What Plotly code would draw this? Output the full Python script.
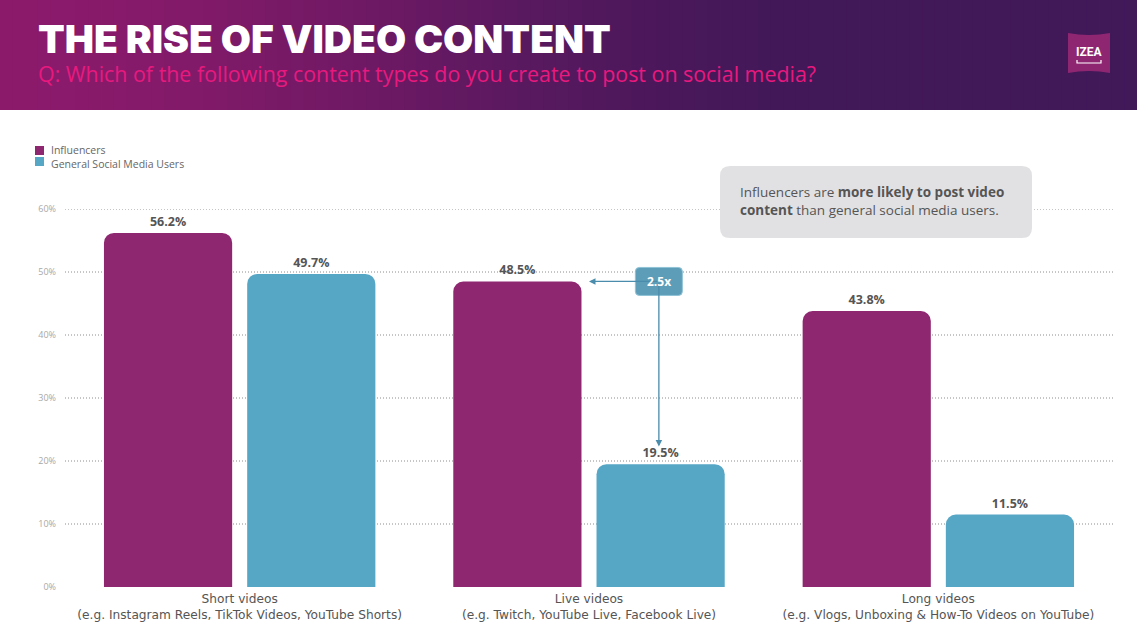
import plotly.graph_objects as go

# ---------------- data ----------------
categories = [
    "Short videos<br>(e.g. Instagram Reels, TikTok Videos, YouTube Shorts)",
    "Live videos<br>(e.g. Twitch, YouTube Live, Facebook Live)",
    "Long videos<br>(e.g. Vlogs, Unboxing & How-To Videos on YouTube)",
]
influencers = [56.2, 48.5, 43.8]
general_users = [49.7, 19.5, 11.5]
series_names = ["Influencers", "General Social Media Users"]
y_tick_vals = [0, 10, 20, 30, 40, 50, 60]
y_tick_text = ["0%", "10%", "20%", "30%", "40%", "50%", "60%"]

title_text = "THE RISE OF VIDEO CONTENT"
subtitle_text = "Q: Which of the following content types do you create to post on social media?"
callout_text = ("Influencers are <b>more likely to post video</b><br>"
                "<b>content</b> than general social media users.")
ratio_text = "2.5x"

# ---------------- styling ----------------
C_INF = "#8e2670"
C_GSM = "#56a6c6"
W, H = 1137, 643
L, R, T, B = 65, 1113, 209, 587
FONT = "Open Sans"
WIDE = "DejaVu Sans"


def px(x):
    return (x - L) / (R - L)


def py(y):
    return (B - y) / (B - T)


def rrect(w, h, r):
    a, b = w / 2, h / 2
    return (f"M {-a + r},{-b} L {a - r},{-b} Q {a},{-b} {a},{-b + r} "
            f"L {a},{b - r} Q {a},{b} {a - r},{b} L {-a + r},{b} "
            f"Q {-a},{b} {-a},{b - r} L {-a},{-b + r} Q {-a},{-b} {-a + r},{-b} Z")


fig = go.Figure()
for name, vals, col in [(series_names[0], influencers, C_INF),
                        (series_names[1], general_users, C_GSM)]:
    fig.add_trace(go.Bar(
        x=categories, y=vals, name=name,
        marker=dict(color=col, cornerradius=10, line=dict(width=0)),
        texttemplate="%{y:.1f}%", textposition="outside",
        textfont=dict(family=FONT, size=12.5, color="#555555", weight="bold"),
        cliponaxis=False, showlegend=False,
    ))

shapes = []
# header gradient band
N = 90
c0 = (0x8b, 0x1a, 0x6b)
c1 = (0x41, 0x18, 0x58)
for i in range(N):
    x0 = W * i / N
    x1 = W * (i + 1) / N + 0.8
    t = min(1.0, (i + 0.5) / N / 0.75)
    t = t * t * (3 - 2 * t)
    col = "rgb(%d,%d,%d)" % tuple(round(c0[k] + (c1[k] - c0[k]) * t) for k in range(3))
    shapes.append(dict(type="rect", xref="paper", yref="paper",
                       x0=px(x0), x1=px(x1), y0=py(110), y1=py(0),
                       fillcolor=col, line=dict(width=0), layer="below"))

# logo
shapes.append(dict(type="path", xref="paper", yref="paper",
                   xsizemode="pixel", ysizemode="pixel",
                   xanchor=px(1089), yanchor=py(53),
                   path="M -21,-20 Q 0,-16 21,-20 L 21,20 Q 0,16 -21,20 Z",
                   fillcolor="#8e2672", line=dict(width=0)))
shapes.append(dict(type="path", xref="paper", yref="paper",
                   xsizemode="pixel", ysizemode="pixel",
                   xanchor=px(1089), yanchor=py(53),
                   path="M -12,-7 L -12,-10 L 12,-10 L 12,-7",
                   line=dict(color="white", width=1.2)))

# legend swatches
for yc, col in [(150.5, C_INF), (161.5, C_GSM)]:
    shapes.append(dict(type="rect", xref="paper", yref="paper",
                       x0=px(35), x1=px(44), y0=py(yc + 4.5), y1=py(yc - 4.5),
                       fillcolor=col, line=dict(width=0)))

# callout box
shapes.append(dict(type="path", xref="paper", yref="paper",
                   xsizemode="pixel", ysizemode="pixel",
                   xanchor=px(876), yanchor=py(202),
                   path=rrect(312, 72, 10),
                   fillcolor="#e1e1e3", line=dict(width=0)))

# dotted gridlines (skip zero)
for v in y_tick_vals[1:]:
    shapes.append(dict(type="line", xref="paper", yref="y",
                       x0=0, x1=1, y0=v, y1=v,
                       line=dict(color="#8c8c8c", width=1, dash="1px,2px"), layer="below"))

# ratio box
ratio_x = 1.2
ratio_y = influencers[1]
shapes.append(dict(type="path", xref="x", yref="y",
                   xsizemode="pixel", ysizemode="pixel",
                   xanchor=ratio_x, yanchor=ratio_y,
                   path=rrect(47, 28, 4),
                   fillcolor="#5d9db8", line=dict(color="#8fc3d6", width=1)))

annotations = [
    dict(xref="paper", yref="paper", x=px(36), y=py(38), xanchor="left", yanchor="middle",
         text=title_text, showarrow=False,
         font=dict(family="Inter", size=39, color="white", weight=900)),
    dict(xref="paper", yref="paper", x=px(36), y=py(73), xanchor="left", yanchor="middle",
         text=subtitle_text, showarrow=False,
         font=dict(family=FONT, size=21.4, color="#e8197e")),
    dict(xref="paper", yref="paper", x=px(1089), y=py(52), xanchor="center", yanchor="middle",
         text="<b>IZEA</b>", showarrow=False,
         font=dict(family="Roboto", size=12, color="white")),
    dict(xref="paper", yref="paper", x=px(49), y=py(156.5), xanchor="left", yanchor="middle",
         text=series_names[0] + "<br>" + series_names[1], showarrow=False, align="left",
         font=dict(family=FONT, size=10.5, color="#666666")),
    dict(xref="paper", yref="paper", x=px(872), y=py(201), xanchor="center", yanchor="middle",
         text=callout_text, showarrow=False, align="left",
         font=dict(family=FONT, size=13.5, color="#555555")),
    # arrows
    dict(xref="x", yref="y", axref="x", ayref="y", x=1.0, y=ratio_y, ax=ratio_x, ay=ratio_y,
         text="", showarrow=True, arrowhead=2, arrowsize=1, arrowwidth=1.3,
         arrowcolor="#4a8cab"),
    dict(xref="x", yref="y", axref="x", ayref="y", x=ratio_x, y=general_users[1] + 2.8,
         ax=ratio_x, ay=ratio_y,
         text="", showarrow=True, arrowhead=2, arrowsize=1, arrowwidth=1.3,
         arrowcolor="#4a8cab"),
    dict(xref="x", yref="y", x=ratio_x, y=ratio_y, xanchor="center", yanchor="middle",
         text="<b>" + ratio_text + "</b>", showarrow=False,
         font=dict(family=FONT, size=12, color="white")),
]

fig.update_layout(
    width=W, height=H,
    margin=dict(l=L, r=W - R, t=T, b=H - B, pad=0),
    paper_bgcolor="white", plot_bgcolor="white",
    barmode="group", bargap=0.18, bargroupgap=0.105,
    showlegend=False,
    shapes=shapes, annotations=annotations,
    font=dict(family=FONT),
    xaxis=dict(showgrid=False, zeroline=False, showline=False, ticks="",
               ticklabelstandoff=3,
               tickfont=dict(family=WIDE, size=12.2, color="#555555")),
    yaxis=dict(range=[0, 60], tickvals=y_tick_vals, ticktext=y_tick_text,
               showgrid=False, zeroline=False, showline=False, ticks="",
               ticklabelstandoff=8,
               tickfont=dict(family=FONT, size=9, color="#a8a8a8")),
)

fig.write_html("out.html")
